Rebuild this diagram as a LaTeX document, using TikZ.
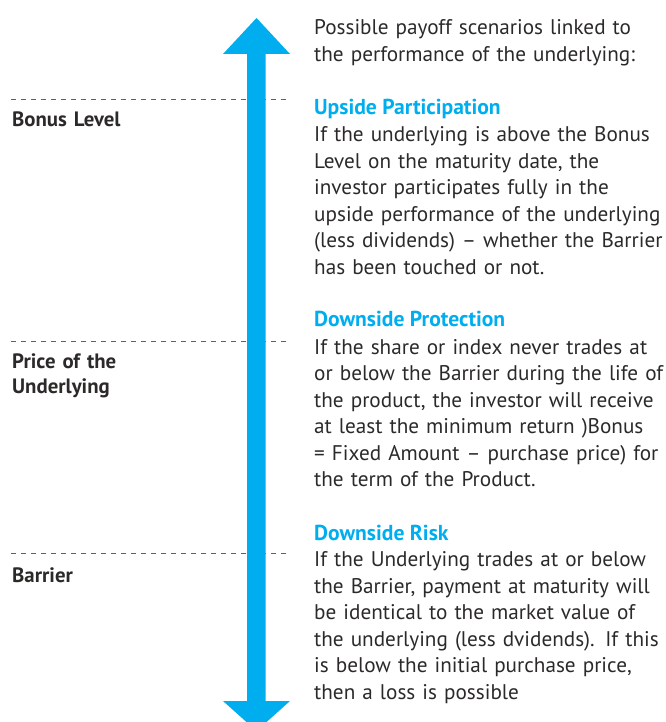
\documentclass[tikz,border=0pt]{standalone}
\usepackage{fontspec}
\setmainfont{PT Sans}
\definecolor{arrowblue}{HTML}{00AEEF}
\definecolor{txt}{HTML}{2B2A29}
\definecolor{dashgray}{HTML}{5F6062}
\begin{document}
\begin{tikzpicture}[x=1pt,y=-1pt,
  body/.style={anchor=base west, inner sep=0pt, text width=360pt, align=left, text=txt, font=\fontsize{21.2}{26.5}\selectfont},
  head/.style={anchor=base west, inner sep=0pt, text=arrowblue, font=\fontsize{21.6}{26.5}\selectfont\bfseries},
  lab/.style={anchor=base west, inner sep=0pt, text width=200pt, align=left, text=txt, font=\fontsize{20.8}{25.5}\selectfont\bfseries},
  level/.style={draw=dashgray, line width=1.3pt, dash pattern=on 4.5pt off 5.5pt}]
\useasboundingbox (0,0) rectangle (665,722);
% level lines
\coordinate (b1) at (11,99.5);  \coordinate (b2) at (290,99.5);
\coordinate (p1) at (11,341.7); \coordinate (p2) at (290,341.7);
\coordinate (r1) at (11,553.5); \coordinate (r2) at (290,553.5);
\draw[level] (b1) -- (b2);
\draw[level] (p1) -- (p2);
\draw[level] (r1) -- (r2);
% double arrow
\fill[arrowblue] (247,54) -- (223,54) -- (256.5,18) -- (290,54) -- (265.7,54)
  -- (265.7,701) -- (290,701) -- (256.5,731) -- (223,701) -- (247,701) -- cycle;
% left labels
\node[lab] (bonus) at (12,127) {Bonus Level};
\node[lab] (price) at (12,368) {Price of the\\Underlying};
\node[lab] (barrier) at (12,582) {Barrier};
% right texts
\node[body] (intro) at (314,35) {Possible payoff scenarios linked to\\the performance of the underlying:};
\node[head] (h1) at (314,115) {Upside Participation};
\node[body] (t1) at (314,141.7) {If the underlying is above the Bonus\\Level on the maturity date, the\\investor participates fully in the\\upside performance of the underlying\\(less dividends) – whether the Barrier\\has been touched or not.};
\node[head] (h2) at (314,326.7) {Downside Protection};
\node[body] (t2) at (314,354) {If the share or index never trades at\\or below the Barrier during the life of\\the product, the investor will receive\\at least the minimum return )Bonus\\= Fixed Amount – purchase price) for\\the term of the Product.};
\node[head] (h3) at (314,540) {Downside Risk};
\node[body] (t3) at (314,566.7) {If the Underlying trades at or below\\the Barrier, payment at maturity will\\be identical to the market value of\\the underlying (less dvidends). If this\\is below the initial purchase price,\\then a loss is possible};
\end{tikzpicture}
\end{document}
